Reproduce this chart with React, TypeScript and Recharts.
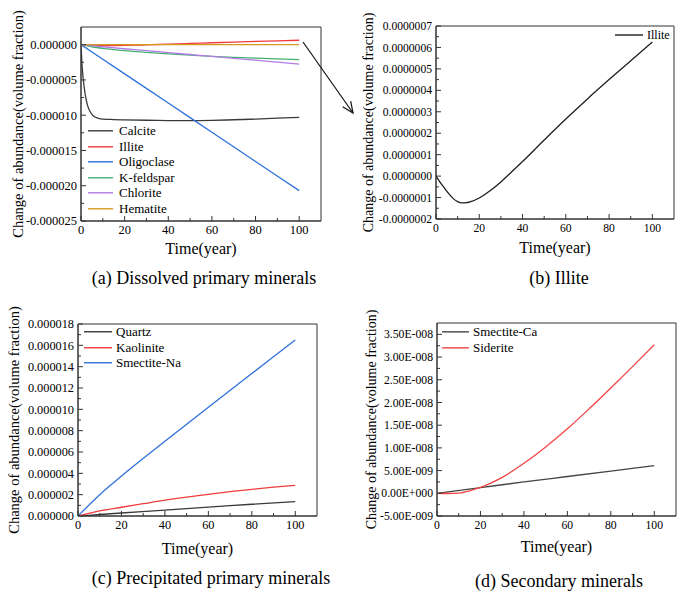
import React from 'react';
import { LineChart, Line, XAxis, YAxis, ReferenceArea, Legend, Label } from 'recharts';

const FONT = '"Liberation Serif", "Times New Roman", serif';
const AXIS = '#333333';

// ---------- Panel (a): dissolved primary minerals (units 1e-6) ----------
const A_UNIT = 1e-6;
const calciteYears = [0, 0.5, 1, 2, 3, 4, 5, 6, 7, 8, 10, 15, 20, 30, 40, 50, 60, 70, 80, 90, 100];
const calciteValues = [0, -3.0, -4.8, -7.2, -8.6, -9.4, -9.9, -10.2, -10.35, -10.45, -10.55, -10.62, -10.66, -10.72, -10.76, -10.77, -10.73, -10.65, -10.55, -10.43, -10.3];
const oligoclaseYears = [0, 20, 40, 60, 80, 100];
const oligoclaseValues = [0, -4.14, -8.28, -12.42, -16.56, -20.7];
const kfeldsparYears = [0, 5, 10, 20, 30, 40, 50, 60, 70, 80, 90, 100];
const kfeldsparValues = [0, -0.3, -0.52, -0.85, -1.1, -1.32, -1.5, -1.65, -1.8, -1.92, -2.03, -2.12];
const chloriteYears = [0, 10, 20, 30, 40, 50, 60, 70, 80, 90, 100];
const chloriteValues = [0, -0.3, -0.58, -0.86, -1.13, -1.4, -1.67, -1.95, -2.2, -2.48, -2.75];
const hematiteYears = [0, 50, 100];
const hematiteValues = [0, 0, 0];

// ---------- Panel (b): illite (units 1e-7) ----------
const B_UNIT = 1e-7;
const illiteYears = [0, 2, 4, 6, 8, 10, 12, 14, 16, 20, 25, 30, 35, 40, 50, 60, 70, 80, 90, 100];
const illiteValues = [0, -0.3, -0.57, -0.83, -1.05, -1.19, -1.25, -1.24, -1.19, -1.02, -0.68, -0.27, 0.2, 0.68, 1.68, 2.66, 3.6, 4.5, 5.38, 6.25];

// ---------- Panel (c): precipitated primary minerals (units 1e-6) ----------
const C_UNIT = 1e-6;
const quartzYears = [0, 10, 20, 40, 60, 80, 100];
const quartzValues = [0, 0.14, 0.28, 0.56, 0.83, 1.1, 1.35];
const kaoliniteYears = [0, 5, 10, 20, 30, 40, 50, 60, 70, 80, 90, 100];
const kaoliniteValues = [0, 0.25, 0.48, 0.82, 1.15, 1.48, 1.77, 2.03, 2.28, 2.5, 2.7, 2.88];
const smectiteNaYears = [0, 10, 20, 40, 60, 80, 100];
const smectiteNaValues = [0, 2.0, 3.74, 7.0, 10.2, 13.35, 16.5];

// ---------- Panel (d): secondary minerals (units 1e-9) ----------
const D_UNIT = 1e-9;
const smectiteCaYears = [0, 20, 40, 60, 80, 100];
const smectiteCaValues = [0, 1.25, 2.5, 3.7, 4.9, 6.1];
const sideriteYears = [0, 5, 10, 15, 20, 25, 30, 40, 50, 60, 70, 80, 90, 100];
const sideriteValues = [0, -0.05, 0.05, 0.55, 1.3, 2.3, 3.5, 6.6, 10.2, 14.2, 18.6, 23.2, 27.9, 32.7];

// ---------- ticks ----------
const X_MAJOR = [0, 20, 40, 60, 80, 100];
const X_MINOR = [10, 30, 50, 70, 90];
const A_Y_MAJOR = [0, -5, -10, -15, -20, -25];
const A_Y_MINOR = [-2.5, -7.5, -12.5, -17.5, -22.5];
const B_Y_MAJOR = [-2, -1, 0, 1, 2, 3, 4, 5, 6, 7];
const B_Y_MINOR = [-1.5, -0.5, 0.5, 1.5, 2.5, 3.5, 4.5, 5.5, 6.5];
const C_Y_MAJOR = [0, 2, 4, 6, 8, 10, 12, 14, 16, 18];
const C_Y_MINOR = [1, 3, 5, 7, 9, 11, 13, 15, 17];
const D_Y_MAJOR = [-5, 0, 5, 10, 15, 20, 25, 30, 35];
const D_Y_MINOR = [-2.5, 2.5, 7.5, 12.5, 17.5, 22.5, 27.5, 32.5];

type SeriesDef = { name: string; color: string; years: number[]; values: number[]; unit: number };

const seriesA: SeriesDef[] = [
  { name: 'Calcite', color: '#3a3a3a', years: calciteYears, values: calciteValues, unit: A_UNIT },
  { name: 'Illite', color: '#f03c3c', years: illiteYears, values: illiteValues, unit: B_UNIT },
  { name: 'Oligoclase', color: '#2f70da', years: oligoclaseYears, values: oligoclaseValues, unit: A_UNIT },
  { name: 'K-feldspar', color: '#44b070', years: kfeldsparYears, values: kfeldsparValues, unit: A_UNIT },
  { name: 'Chlorite', color: '#b27ae6', years: chloriteYears, values: chloriteValues, unit: A_UNIT },
  { name: 'Hematite', color: '#d49a1e', years: hematiteYears, values: hematiteValues, unit: A_UNIT },
];
const seriesB: SeriesDef[] = [
  { name: 'Illite', color: '#1e1e1e', years: illiteYears, values: illiteValues, unit: B_UNIT },
];
const seriesC: SeriesDef[] = [
  { name: 'Quartz', color: '#3a3a3a', years: quartzYears, values: quartzValues, unit: C_UNIT },
  { name: 'Kaolinite', color: '#f03c3c', years: kaoliniteYears, values: kaoliniteValues, unit: C_UNIT },
  { name: 'Smectite-Na', color: '#2f70da', years: smectiteNaYears, values: smectiteNaValues, unit: C_UNIT },
];
const seriesD: SeriesDef[] = [
  { name: 'Smectite-Ca', color: '#444444', years: smectiteCaYears, values: smectiteCaValues, unit: D_UNIT },
  { name: 'Siderite', color: '#f04444', years: sideriteYears, values: sideriteValues, unit: D_UNIT },
];

const toData = (s: SeriesDef) => s.years.map((t, i) => ({ t, v: s.values[i] * s.unit }));
const scale = (arr: number[], u: number) => arr.map((v) => v * u);

const fixedFmt = (digits: number) => (v: number) => (Math.abs(v) < 1e-15 ? 0 : v).toFixed(digits);
const sciFmt = (v: number) => {
  if (Math.abs(v) < 1e-20) return '0.00E+000';
  let e = Math.floor(Math.log10(Math.abs(v)));
  let m = v / Math.pow(10, e);
  if (Math.abs(Number(m.toFixed(2))) >= 10) {
    e += 1;
    m = v / Math.pow(10, e);
  }
  const es = (e < 0 ? '-' : '+') + String(Math.abs(e)).padStart(3, '0');
  return m.toFixed(2) + 'E' + es;
};

type PanelCfg = {
  left: number; top: number; width: number; height: number;
  margin: { top: number; right: number; bottom: number; left: number };
  yAxisWidth: number;
  xDomain: [number, number]; yDomain: [number, number];
  yMajor: number[]; yMinor: number[]; unit: number;
  fmt: (v: number) => string;
  tickFont: number;
  series: SeriesDef[];
  legend: { left: number; top: number; rowH: number; lineLen: number; gap: number; fontSize: number };
  yTitleX: number; xTitleY: number; yTitleFont: number;
};

const makeYTick = (cfg: PanelCfg) => (props: any) => {
  const { x, y, payload } = props;
  const v = payload.value;
  const isMajor = cfg.yMajor.some((m) => Math.abs(m * cfg.unit - v) < cfg.unit * 1e-6);
  return (
    <g>
      <line x1={x} y1={y} x2={x + (isMajor ? 5 : 3)} y2={y} stroke={AXIS} strokeWidth={1} />
      {isMajor && (
        <text x={x - 4} y={y} dy="0.35em" textAnchor="end" fontSize={cfg.tickFont} fontFamily={FONT} fill="#000">
          {cfg.fmt(v)}
        </text>
      )}
    </g>
  );
};

const makeXTick = (cfg: PanelCfg) => (props: any) => {
  const { x, y, payload } = props;
  const v = payload.value;
  const isMajor = X_MAJOR.includes(v);
  return (
    <g>
      <line x1={x} y1={y} x2={x} y2={y - (isMajor ? 5 : 3)} stroke={AXIS} strokeWidth={1} />
      {isMajor && (
        <text x={x} y={y + 13} textAnchor="middle" fontSize={cfg.tickFont} fontFamily={FONT} fill="#000">
          {v}
        </text>
      )}
    </g>
  );
};

const LegendBox = (props: any) => {
  const { payload, cfg } = props;
  const L = cfg.legend;
  const order = cfg.series.map((s: SeriesDef) => s.name);
  const items = [...(payload || [])].sort((a: any, b: any) => order.indexOf(a.value) - order.indexOf(b.value));
  return (
    <div style={{ fontFamily: FONT, fontSize: L.fontSize, color: '#000' }}>
      {items.map((item: any) => (
        <div key={item.value} style={{ display: 'flex', alignItems: 'center', height: L.rowH, whiteSpace: 'nowrap' }}>
          <svg width={L.lineLen} height={L.rowH} style={{ display: 'block' }}>
            <line x1={0} x2={L.lineLen} y1={L.rowH / 2} y2={L.rowH / 2} stroke={item.color} strokeWidth={1.4} />
          </svg>
          <span style={{ marginLeft: L.gap, lineHeight: L.rowH + 'px' }}>{item.value}</span>
        </div>
      ))}
    </div>
  );
};

const Panel = ({ cfg }: { cfg: PanelCfg }) => {
  const yTicks = [...scale(cfg.yMajor, cfg.unit), ...scale(cfg.yMinor, cfg.unit)].sort((a, b) => a - b);
  const xTicks = [...X_MAJOR, ...X_MINOR].sort((a, b) => a - b);
  return (
    <div style={{ position: 'absolute', left: cfg.left, top: cfg.top, width: cfg.width, height: cfg.height }}>
      <LineChart width={cfg.width} height={cfg.height} margin={cfg.margin}>
        <XAxis
          dataKey="t"
          type="number"
          domain={cfg.xDomain}
          allowDataOverflow
          ticks={xTicks}
          interval={0}
          tickSize={0}
          tickMargin={0}
          tickLine={false}
          tick={makeXTick(cfg)}
          axisLine={{ stroke: AXIS, strokeWidth: 1 }}
          height={30}
        >
          <Label
            content={(p: any) => {
              const vb = p.viewBox;
              const cx = vb.x + vb.width / 2;
              return (
                <text x={cx} y={cfg.xTitleY} textAnchor="middle" dominantBaseline="central" fontSize={16} fontFamily={FONT} fill="#000">
                  Time(year)
                </text>
              );
            }}
          />
        </XAxis>
        <YAxis
          type="number"
          domain={cfg.yDomain}
          allowDataOverflow
          ticks={yTicks}
          interval={0}
          tickSize={0}
          tickMargin={0}
          tickLine={false}
          tick={makeYTick(cfg)}
          axisLine={{ stroke: AXIS, strokeWidth: 1 }}
          width={cfg.yAxisWidth}
        >
          <Label
            content={(p: any) => {
              const vb = p.viewBox;
              const cy = vb.y + vb.height / 2;
              const cx = cfg.yTitleX;
              return (
                <text
                  x={cx}
                  y={cy}
                  transform={`rotate(-90 ${cx} ${cy})`}
                  textAnchor="middle"
                  dominantBaseline="central"
                  fontSize={cfg.yTitleFont}
                  fontFamily={FONT}
                  fill="#000"
                >
                  Change of abundance(volume fraction)
                </text>
              );
            }}
          />
        </YAxis>
        <ReferenceArea
          x1={cfg.xDomain[0]}
          x2={cfg.xDomain[1]}
          y1={cfg.yDomain[0]}
          y2={cfg.yDomain[1]}
          fill="none"
          fillOpacity={0}
          stroke={AXIS}
          strokeWidth={1}
          ifOverflow="visible"
        />
        {cfg.series.map((s) => (
          <Line
            key={s.name}
            data={toData(s)}
            dataKey="v"
            name={s.name}
            type="monotone"
            stroke={s.color}
            strokeWidth={1.3}
            dot={false}
            activeDot={false}
            isAnimationActive={false}
          />
        ))}
        <Legend
          layout="vertical"
          align="center"
          verticalAlign="middle"
          wrapperStyle={{ left: cfg.legend.left, top: cfg.legend.top, width: 'auto', height: 'auto' }}
          content={(p: any) => <LegendBox {...p} cfg={cfg} />}
        />
      </LineChart>
    </div>
  );
};

const panelA: PanelCfg = {
  left: 0, top: 0, width: 340, height: 260,
  margin: { top: 27, right: 19, bottom: 9, left: 0 },
  yAxisWidth: 81,
  xDomain: [0, 110], yDomain: [-25e-6, 2.5e-6],
  yMajor: A_Y_MAJOR, yMinor: A_Y_MINOR, unit: A_UNIT,
  fmt: fixedFmt(6), tickFont: 12.5,
  series: seriesA,
  legend: { left: 88, top: 123, rowH: 15.6, lineLen: 25, gap: 6, fontSize: 13 },
  yTitleX: 18, xTitleY: 248, yTitleFont: 14.5,
};
const panelB: PanelCfg = {
  left: 340, top: 0, width: 345, height: 260,
  margin: { top: 26, right: 11, bottom: 11, left: 0 },
  yAxisWidth: 96,
  xDomain: [0, 110], yDomain: [-2e-7, 7e-7],
  yMajor: B_Y_MAJOR, yMinor: B_Y_MINOR, unit: B_UNIT,
  fmt: fixedFmt(7), tickFont: 11.6,
  series: seriesB,
  legend: { left: 275, top: 28, rowH: 14, lineLen: 28, gap: 4, fontSize: 12 },
  yTitleX: 28, xTitleY: 247, yTitleFont: 14,
};
const panelC: PanelCfg = {
  left: 0, top: 290, width: 340, height: 300,
  margin: { top: 34, right: 23, bottom: 44, left: 0 },
  yAxisWidth: 78,
  xDomain: [0, 110], yDomain: [0, 18e-6],
  yMajor: C_Y_MAJOR, yMinor: C_Y_MINOR, unit: C_UNIT,
  fmt: fixedFmt(6), tickFont: 12.3,
  series: seriesC,
  legend: { left: 84, top: 34, rowH: 15.5, lineLen: 28, gap: 4, fontSize: 13 },
  yTitleX: 14, xTitleY: 258, yTitleFont: 14.5,
};
const panelD: PanelCfg = {
  left: 340, top: 290, width: 345, height: 300,
  margin: { top: 33, right: 9, bottom: 44, left: 0 },
  yAxisWidth: 97,
  xDomain: [0, 110], yDomain: [-5e-9, 3.75e-8],
  yMajor: D_Y_MAJOR, yMinor: D_Y_MINOR, unit: D_UNIT,
  fmt: sciFmt, tickFont: 11.7,
  series: seriesD,
  legend: { left: 102, top: 34, rowH: 15.7, lineLen: 27, gap: 4, fontSize: 13 },
  yTitleX: 31, xTitleY: 256, yTitleFont: 14,
};

const captions = [
  { text: '(a) Dissolved primary minerals', x: 204, y: 278 },
  { text: '(b) Illite', x: 559, y: 278 },
  { text: '(c) Precipitated primary minerals', x: 211, y: 578 },
  { text: '(d) Secondary minerals', x: 559, y: 581 },
];

const Overlay = () => {
  const x1 = 303, y1 = 42, x2 = 353, y2 = 113;
  const ang = Math.atan2(y2 - y1, x2 - x1);
  const hl = 12, ha = 0.42;
  const h1x = x2 - hl * Math.cos(ang - ha), h1y = y2 - hl * Math.sin(ang - ha);
  const h2x = x2 - hl * Math.cos(ang + ha), h2y = y2 - hl * Math.sin(ang + ha);
  return (
    <svg width={685} height={592} style={{ position: 'absolute', left: 0, top: 0, pointerEvents: 'none' }}>
      <line x1={x1} y1={y1} x2={x2} y2={y2} stroke="#111" strokeWidth={1.2} />
      <polyline points={`${h1x},${h1y} ${x2},${y2} ${h2x},${h2y}`} fill="none" stroke="#111" strokeWidth={1.2} />
      {captions.map((c) => (
        <text key={c.text} x={c.x} y={c.y} textAnchor="middle" dominantBaseline="central" fontSize={18} fontFamily={FONT} fill="#000">
          {c.text}
        </text>
      ))}
    </svg>
  );
};

export default function App() {
  return (
    <div style={{ position: 'absolute', left: 0, top: 0, width: 685, height: 592, background: '#fff', fontFamily: FONT, overflow: 'hidden' }}>
      <Panel cfg={panelA} />
      <Panel cfg={panelB} />
      <Panel cfg={panelC} />
      <Panel cfg={panelD} />
      <Overlay />
    </div>
  );
}
